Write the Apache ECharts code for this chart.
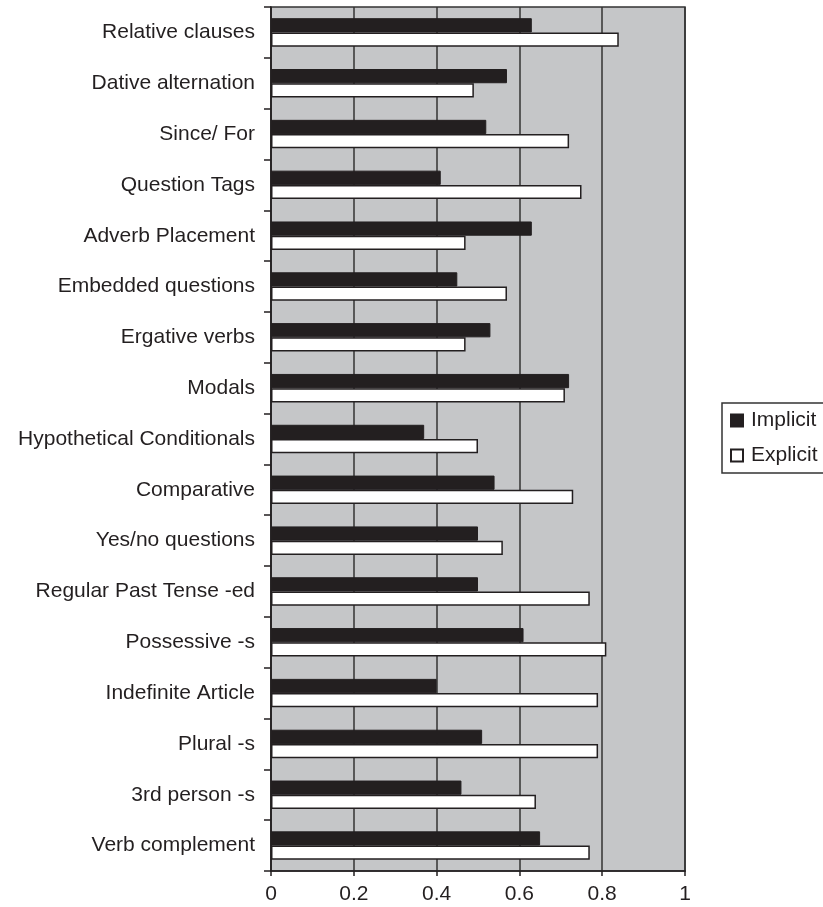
<!DOCTYPE html>
<html>
<head>
<meta charset="utf-8">
<script src="https://cdn.jsdelivr.net/npm/echarts@6/dist/echarts.min.js"></script>
<style>
  html, body { margin: 0; padding: 0; background: #ffffff; }
  #chart { width: 823px; height: 907px; }
</style>
</head>
<body>
<div id="chart"></div>
<script>
// Grammar structures, listed top to bottom
const categories = [
  'Relative clauses',
  'Dative alternation',
  'Since/ For',
  'Question Tags',
  'Adverb Placement',
  'Embedded questions',
  'Ergative verbs',
  'Modals',
  'Hypothetical Conditionals',
  'Comparative',
  'Yes/no questions',
  'Regular Past Tense -ed',
  'Possessive -s',
  'Indefinite Article',
  'Plural -s',
  '3rd person -s',
  'Verb complement'
];

// Scores per structure
const implicitScores = [0.63, 0.57, 0.52, 0.41, 0.63, 0.45, 0.53, 0.72, 0.37, 0.54, 0.50, 0.50, 0.61, 0.40, 0.51, 0.46, 0.65];
const explicitScores = [0.84, 0.49, 0.72, 0.75, 0.47, 0.57, 0.47, 0.71, 0.50, 0.73, 0.56, 0.77, 0.81, 0.79, 0.79, 0.64, 0.77];

const seriesNames = ['Implicit', 'Explicit'];

const ink = '#231f20';
const fontFamily = '"Liberation Sans", Arial, Helvetica, sans-serif';

const chart = echarts.init(document.getElementById('chart'));
chart.setOption({
  animation: false,
  backgroundColor: '#ffffff',
  textStyle: { fontFamily: fontFamily, color: ink },
  grid: {
    left: 271,
    right: 138,
    top: 7,
    bottom: 36,
    show: true,
    backgroundColor: '#c5c6c8',
    borderColor: '#333333',
    borderWidth: 1.5
  },
  legend: {
    orient: 'vertical',
    left: 722,
    top: 403,
    data: seriesNames,
    icon: 'rect',
    itemWidth: 12,
    itemHeight: 12,
    itemGap: 14,
    padding: [7, 8, 7, 8],
    borderColor: '#333333',
    borderWidth: 1.5,
    backgroundColor: '#ffffff',
    textStyle: { fontSize: 21, color: ink, fontFamily: fontFamily, padding: [0, 0, 0, 3] }
  },
  xAxis: {
    type: 'value',
    min: 0,
    max: 1,
    interval: 0.2,
    axisLine: { show: true, lineStyle: { color: ink, width: 1.5 } },
    axisTick: { show: true, length: 5, lineStyle: { color: ink, width: 1.5 } },
    axisLabel: { fontSize: 21, color: ink, margin: 13, fontFamily: fontFamily },
    splitLine: { show: true, lineStyle: { color: '#333333', width: 1.5 } }
  },
  yAxis: {
    type: 'category',
    data: categories,
    inverse: true,
    axisLine: { show: true, lineStyle: { color: ink, width: 1.5 } },
    axisTick: { show: true, length: 7, inside: false, lineStyle: { color: ink, width: 1.5 } },
    axisLabel: { fontSize: 21, color: ink, margin: 16, fontFamily: fontFamily },
    splitLine: { show: false }
  },
  series: [
    {
      name: seriesNames[0],
      type: 'bar',
      data: implicitScores,
      barGap: '0%',
      barCategoryGap: '44%',
      itemStyle: { color: ink, borderColor: ink, borderWidth: 1 }
    },
    {
      name: seriesNames[1],
      type: 'bar',
      data: explicitScores,
      barGap: '0%',
      barCategoryGap: '44%',
      itemStyle: { color: '#ffffff', borderColor: ink, borderWidth: 1.5 }
    }
  ]
});
</script>
</body>
</html>
